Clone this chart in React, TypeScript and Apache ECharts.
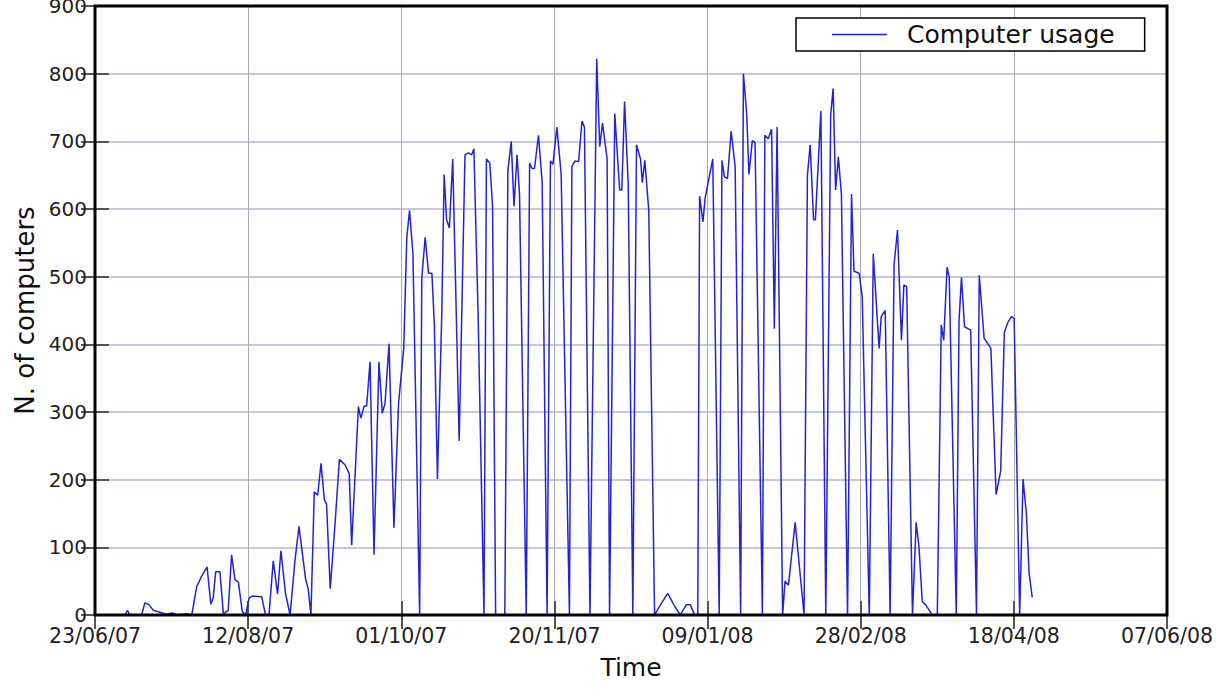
import React, { useEffect, useRef } from 'react';
import * as echarts from 'echarts';

const tickLabels = ['23/06/07', '12/08/07', '01/10/07', '20/11/07', '09/01/08', '28/02/08', '18/04/08', '07/06/08'];

// days since 23/06/07
const dayOffset = [
  0, 9.8, 10.6, 11.4, 15.2, 16.3, 17.7, 19, 21.2, 23.4, 25.2, 26.7, 29.9, 31.6,
  33.2, 34.8, 36.6, 37.8, 38.6, 39.4, 40.8, 41.9, 43.5, 44.6, 45.7, 46.8, 48.1, 49.2,
  50.3, 51.4, 54.4, 55.7, 56.8, 58.2, 59.6, 60.7, 62.2, 63.7, 65.3, 66.6, 67.7, 68.8,
  69.6, 70.5, 71.6, 72.7, 73.8, 74.9, 75.6, 76.8, 78.3, 79.8, 81.6, 83, 83.8, 86,
  86.8, 87.9, 88.7, 89.8, 91.1, 92.7, 93.8, 94.7, 96, 97.6, 99.1, 100.8, 101.8, 102.7,
  103.8, 106, 106.7, 107.8, 108.9, 110, 110.8, 111.8, 113.2, 114, 114.8, 115.7, 116.8, 118.9,
  120.8, 121.9, 123, 123.7, 125.1, 127, 127.8, 128.9, 129.8, 130.8, 133.8, 134.8, 135.9, 136.8,
  137.8, 138.6, 140.8, 141.9, 142.7, 143.5, 144.8, 146, 147.6, 148.7, 149.5, 150.8, 152.2, 154.9,
  155.7, 156.8, 157.9, 159, 159.8, 161.6, 163.8, 164.8, 165.7, 167.2, 168, 169.7, 171.3, 172,
  172.9, 174.1, 175.6, 176.8, 178.1, 178.7, 179.5, 180.8, 182.7, 184.6, 187, 189, 191.1, 193,
  194.4, 195.8, 196.8, 197.4, 198.5, 199.2, 201.7, 203.8, 204.7, 205.5, 206.5, 207.7, 209, 210.8,
  211.7, 212.8, 213.5, 214.6, 215.5, 217.9, 218.7, 219.8, 220.9, 221.8, 222.7, 224.5, 225.3, 226.4,
  228.6, 229.7, 231.5, 232.6, 233.5, 234.6, 235.2, 237, 238.6, 240.2, 241, 241.8, 242.7, 243.7,
  245.7, 247, 247.8, 249.5, 250.5, 252.8, 254.1, 256, 256.7, 258, 259.6, 260.9, 262, 263.3,
  264.1, 265, 266.9, 268.1, 269, 270.1, 271.2, 273.4, 275, 276.3, 277.1, 278.2, 278.9, 281.2,
  282.1, 282.9, 283.9, 285.9, 287.8, 288.7, 290.3, 292.5, 294.2, 295.7, 296.9, 298, 299.2, 300.1,
  301.9, 303, 304.1, 305, 306,
];

const usage = [
  0, 0, 7, 0, 0, 18, 15, 7, 4, 1, 3, 0, 2, 0,
  42, 57, 71, 16, 26, 64, 64, 2, 7, 89, 52, 49, 5, 0,
  25, 28, 27, 0, 0, 80, 31, 95, 32, 0, 81, 131, 91, 52,
  39, 0, 182, 177, 224, 170, 164, 39, 130, 230, 222, 209, 103, 308,
  291, 309, 309, 374, 89, 374, 298, 313, 401, 129, 312, 394, 558, 598,
  534, 0, 499, 558, 505, 505, 429, 201, 441, 651, 584, 572, 674, 257,
  680, 683, 680, 689, 441, 0, 674, 668, 604, 0, 0, 657, 700, 604,
  680, 622, 0, 668, 660, 660, 709, 639, 0, 671, 666, 721, 651, 0,
  663, 671, 670, 730, 721, 0, 822, 692, 727, 674, 0, 741, 628, 628,
  759, 636, 0, 695, 674, 639, 672, 598, 0, 15, 32, 15, 0, 15,
  15, 0, 0, 619, 581, 616, 674, 0, 672, 648, 645, 715, 663, 0,
  800, 739, 651, 701, 698, 0, 709, 704, 718, 423, 721, 0, 50, 44,
  137, 85, 0, 650, 695, 584, 584, 745, 0, 739, 778, 628, 677, 622,
  0, 622, 508, 505, 470, 0, 534, 394, 441, 450, 0, 518, 569, 406,
  488, 485, 0, 137, 102, 20, 15, 0, 0, 429, 406, 514, 499, 0,
  435, 499, 426, 421, 0, 502, 409, 394, 178, 213, 418, 432, 441, 438,
  0, 201, 149, 61, 26,
];

const FONT = "'DejaVu Sans', 'Liberation Sans', sans-serif";
const LINE_COLOR = '#2323d4';

export default function App() {
  const ref = useRef<HTMLDivElement>(null);
  useEffect(() => {
    const chart = echarts.init(ref.current as HTMLDivElement, null, { renderer: 'svg' });
    const tick = { show: true, inside: true, length: 14, lineStyle: { color: '#555', width: 2 } };
    chart.setOption({
      animation: false,
      backgroundColor: '#ffffff',
      textStyle: { fontFamily: FONT },
      legend: {
        left: 796,
        top: 18,
        padding: [4, 30, 4, 36],
        icon: 'rect',
        itemWidth: 55,
        itemHeight: 1.6,
        backgroundColor: '#ffffff',
        borderColor: '#000000',
        borderWidth: 1.5,
        borderRadius: 0,
        itemStyle: { color: LINE_COLOR },
        textStyle: { fontSize: 25, color: '#111', fontFamily: FONT, padding: [0, 0, 0, 15] },
        data: ['Computer usage'],
      },
      grid: {
        left: 95,
        top: 6,
        right: 51,
        bottom: 77,
        show: true,
        borderColor: '#000',
        borderWidth: 3,
        backgroundColor: 'transparent',
        outerBoundsMode: 'none',
        containLabel: false,
        z: 3,
      },
      xAxis: [
        {
          type: 'value',
          min: 0,
          max: 350,
          interval: 50,
          name: 'Time',
          nameLocation: 'middle',
          nameGap: 40,
          nameTextStyle: { fontSize: 25, color: '#111', fontFamily: FONT },
          axisLabel: {
            formatter: (v: number) => tickLabels[Math.round(v / 50)] ?? '',
            fontSize: 20.5,
            lineHeight: 18,
            color: '#222',
            margin: 12,
            fontFamily: FONT,
          },
          axisLine: { show: false },
          axisTick: tick,
          splitLine: { show: true, lineStyle: { color: '#a6abb8', width: 1 } },
        },
        {
          type: 'value',
          position: 'top',
          min: 0,
          max: 350,
          interval: 50,
          axisLabel: { show: false },
          axisLine: { show: false },
          axisTick: tick,
          splitLine: { show: false },
        },
      ],
      yAxis: [
        {
          type: 'value',
          min: 0,
          max: 900,
          interval: 100,
          name: 'N. of computers',
          nameLocation: 'middle',
          nameGap: 56,
          nameRotate: 90,
          nameTextStyle: { fontSize: 26, color: '#111', fontFamily: FONT },
          axisLabel: { fontSize: 20, lineHeight: 16, color: '#222', margin: 8, fontFamily: FONT },
          axisLine: { show: false },
          axisTick: tick,
          splitLine: { show: true, lineStyle: { color: '#c6c9da', width: 2 } },
        },
        {
          type: 'value',
          position: 'right',
          min: 0,
          max: 900,
          interval: 100,
          axisLabel: { show: false },
          axisLine: { show: false },
          axisTick: tick,
          splitLine: { show: false },
        },
      ],
      series: [
        {
          name: 'Computer usage',
          type: 'line',
          data: dayOffset.map((d, i) => [d, usage[i]]),
          symbol: 'none',
          lineStyle: { color: LINE_COLOR, width: 1.5 },
          itemStyle: { color: LINE_COLOR },
          z: 2,
        },
      ],
    });
    return () => chart.dispose();
  }, []);
  return (
    <div
      ref={ref}
      style={{ position: 'fixed', left: 0, top: 0, width: 1218, height: 692, background: '#fff' }}
    />
  );
}
